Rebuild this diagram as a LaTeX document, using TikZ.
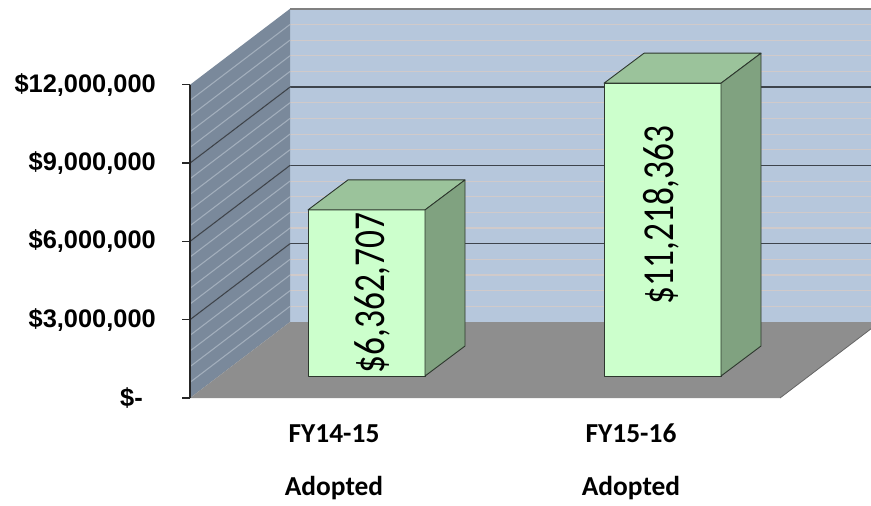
\documentclass[tikz,border=0pt]{standalone}
\usepackage{fontspec}
\setmainfont{Carlito}
\newfontfamily\arialfont{Liberation Sans}
\definecolor{wallback}{RGB}{182,199,220}
\definecolor{wallside}{RGB}{122,137,155}
\definecolor{floorgray}{RGB}{142,142,142}
\definecolor{gridmajor}{RGB}{62,68,76}
\definecolor{gridback}{RGB}{208,202,202}
\definecolor{gridside}{RGB}{162,174,188}
\definecolor{barfront}{RGB}{204,255,204}
\definecolor{bartopc}{RGB}{155,195,155}
\definecolor{barsidec}{RGB}{128,162,128}
\definecolor{baredge}{RGB}{45,55,45}
\tikzset{
  minorback/.style={gridback, line width=1.1pt},
  minorside/.style={gridside, line width=1.1pt},
  majorgrid/.style={gridmajor, line width=1.2pt},
  barface/.style={draw=baredge, line width=0.9pt},
  ticklabel/.style={anchor=east, inner sep=0pt, font=\arialfont\bfseries\fontsize{25.5}{28}\selectfont},
  catlabel/.style={anchor=base, inner sep=0pt, font=\bfseries\fontsize{27.5}{30}\selectfont},
  barlabel/.style={inner sep=0pt, rotate=90, yscale=1.25, font=\fontsize{35.5}{38}\selectfont}
}
\begin{document}
\begin{tikzpicture}[x=1bp, y=-1bp, line join=round]
  \def\u{26.1} % px per million
  \def\fx{190} \def\fy{398} % front corner of floor
  \def\bx{290} \def\by{322} % back corner of floor
  \def\ex{880}              % right end of back wall
  \useasboundingbox (0,0) rectangle (871,506);
  \clip (0,0) rectangle (871,506);
  % back wall
  \fill[wallback] (\bx,\by) rectangle (\ex,{\by-12*\u});
  \foreach \i in {1,...,19}
    \draw[minorback] (\bx,{\by-\i*0.6*\u}) -- (\ex,{\by-\i*0.6*\u});
  \foreach \v in {3,6,9}
    \draw[majorgrid] (\bx,{\by-\v*\u}) -- (\ex,{\by-\v*\u});
  \draw[gray, line width=2pt] (\bx,{\by-12*\u}) -- (\ex,{\by-12*\u});
  % side wall
  \fill[wallside] (\fx,\fy) -- (\bx,\by) -- (\bx,{\by-12*\u}) -- (\fx,{\fy-12*\u}) -- cycle;
  \foreach \i in {1,...,19}
    \draw[minorside] (\fx,{\fy-\i*0.6*\u}) -- (\bx,{\by-\i*0.6*\u});
  \foreach \v in {3,6,9}
    \draw[majorgrid] (\fx,{\fy-\v*\u}) -- (\bx,{\by-\v*\u});
  % floor
  \fill[floorgray] (\fx,\fy) -- (780,\fy) -- (\ex,\by) -- (\bx,\by) -- cycle;
  \draw[gray!80!black, line width=0.8pt] (780,\fy) -- (\ex,\by);
  % value axis
  \draw[black!85, line width=1.3pt] (\fx,{\fy-12*\u}) -- (\fx,\fy);
  \foreach \v/\txt in {3/{\$3,000,000}, 6/{\$6,000,000}, 9/{\$9,000,000}, 12/{\$12,000,000}} {
    \coordinate (tick\v) at (\fx,{\fy-\v*\u});
    \draw[black!85, line width=1.3pt] (tick\v) -- ++(-8,0);
    \node[ticklabel] (val\v) at ([xshift=-34bp]tick\v) {\txt};
  }
  \coordinate (tick0) at (\fx,\fy);
  \draw[black!85, line width=1.3pt] (tick0) -- ++(-8,0);
  \node[ticklabel] (val0) at ([xshift=-47bp]tick0) {\$-};
  % bars
  \foreach \x/\val/\lx/\ly/\txt/\nm in {308/6.362707/372/293/{\$6,362,707}/fyA,
                                       604/11.218363/661/215/{\$11,218,363}/fyB} {
    \pgfmathsetmacro\bartop{376-\val*\u}
    \filldraw[barface, fill=barfront] (\x,376) rectangle ({\x+117},\bartop);
    \filldraw[barface, fill=bartopc] (\x,\bartop) -- ++(40,-30) -- ++(117,0) -- ++(-40,30) -- cycle;
    \filldraw[barface, fill=barsidec] ({\x+117},376) -- ++(40,-30) -- ({\x+157},{\bartop-30}) -- ({\x+117},\bartop) -- cycle;
    \node[barlabel] (\nm) at (\lx,\ly) {\txt};
  }
  % categories
  \node[catlabel] (catA) at (334,442) {FY14-15};
  \node[catlabel] (adA) at (334,495) {Adopted};
  \node[catlabel] (catB) at (631,442) {FY15-16};
  \node[catlabel] (adB) at (631,495) {Adopted};
\end{tikzpicture}
\end{document}
